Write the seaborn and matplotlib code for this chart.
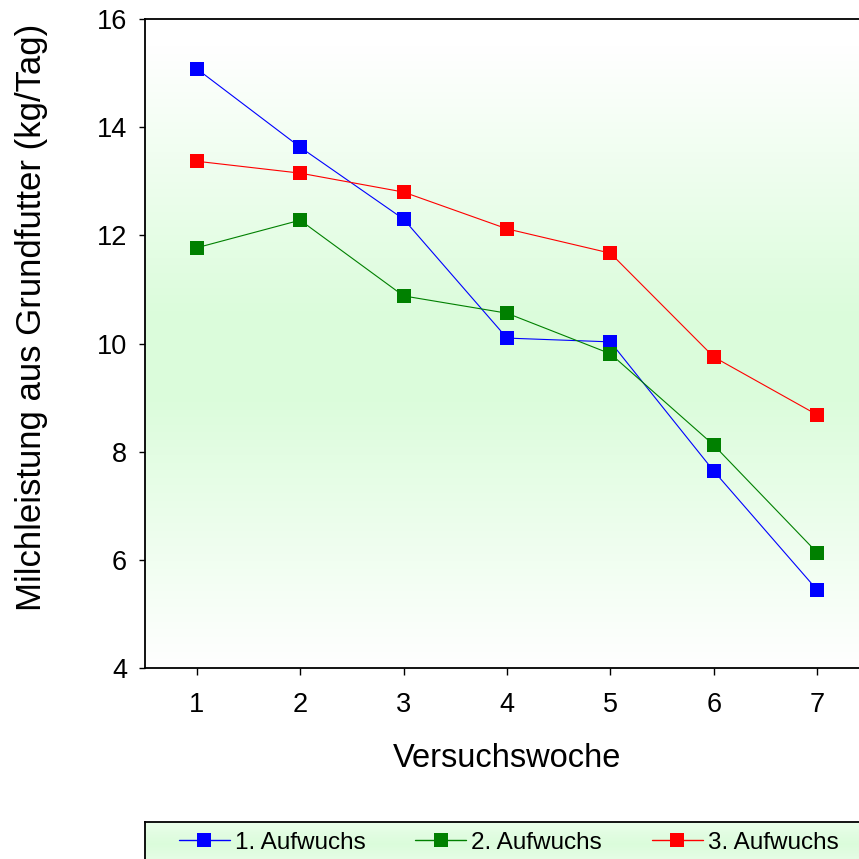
import numpy as np
import pandas as pd
import matplotlib
matplotlib.use("Agg")
import matplotlib.pyplot as plt
import seaborn as sns
from matplotlib.lines import Line2D

weeks = [1, 2, 3, 4, 5, 6, 7]
aufwuchs1 = [15.08, 13.63, 12.30, 10.10, 10.03, 7.64, 5.44]
aufwuchs2 = [11.77, 12.28, 10.88, 10.56, 9.81, 8.12, 6.13]
aufwuchs3 = [13.37, 13.15, 12.80, 12.12, 11.67, 9.75, 8.68]
series_names = ["1. Aufwuchs", "2. Aufwuchs", "3. Aufwuchs"]
colors = ["#0000ff", "#008000", "#ff0000"]

df = pd.DataFrame({
    "Versuchswoche": weeks * 3,
    "value": aufwuchs1 + aufwuchs2 + aufwuchs3,
    "series": [series_names[0]] * 7 + [series_names[1]] * 7 + [series_names[2]] * 7,
})

sns.set_theme(style="white")
plt.rcParams["font.family"] = ["Liberation Sans", "DejaVu Sans"]

W = H = 859
fig = plt.figure(figsize=(W / 100, H / 100), dpi=100)
ax_left, ax_right, ax_top, ax_bottom = 145, 869, 19, 668
ax = fig.add_axes([ax_left / W, 1 - ax_bottom / H, (ax_right - ax_left) / W, (ax_bottom - ax_top) / H])

green = np.array([0.86, 0.99, 0.86])
white = np.array([1.0, 1.0, 1.0])
t = np.linspace(0, 1, 256)
prof = 1 - np.abs(t - 0.52) / 0.48
prof = np.clip(prof * 1.15, 0, 1)
grad = white[None, :] * (1 - prof[:, None]) + green[None, :] * prof[:, None]
ax.imshow(grad[:, None, :], extent=[0.5, 7.5, 4, 16], aspect="auto", zorder=0, origin="upper")

sns.lineplot(data=df, x="Versuchswoche", y="value", hue="series", palette=colors,
             marker="s", markersize=9.5, markeredgewidth=0, linewidth=0.8,
             ax=ax, legend=False, zorder=3)

ax.set_xlim(0.5, 7.5)
ax.set_ylim(4, 16)
ax.set_xticks(weeks)
ax.set_yticks([4, 6, 8, 10, 12, 14, 16])
ax.tick_params(axis="both", which="major", labelsize=19.5, length=5, width=1, direction="out",
               color="black", labelcolor="black", left=True, bottom=True)
ax.tick_params(axis="x", pad=12)
ax.tick_params(axis="y", pad=9, length=4)
for s in ["left", "bottom", "top", "right"]:
    ax.spines[s].set_color("black")
    ax.spines[s].set_linewidth(1.3)
ax.set_xlabel("Versuchswoche", fontsize=23.5, color="black", labelpad=18)
ax.set_ylabel("Milchleistung aus Grundfutter (kg/Tag)", fontsize=25, color="black")
ax.yaxis.set_label_coords((48 - ax_left) / (ax_right - ax_left), (ax_bottom - 317) / (ax_bottom - ax_top))
ax.grid(False)

# legend box
lg_top, lg_bottom = 822, 866
lax = fig.add_axes([ax_left / W, 1 - lg_bottom / H, (ax_right - ax_left) / W, (lg_bottom - lg_top) / H])
t2 = np.linspace(0, 1, 64)
prof2 = 1 - np.abs(t2 - 0.5) / 0.5
prof2 = 0.6 + 0.4 * prof2
grad2 = white[None, :] * (1 - prof2[:, None]) + green[None, :] * prof2[:, None]
lax.imshow(grad2[:, None, :], extent=[0, 1, 0, 1], aspect="auto", zorder=0)
lax.set_xlim(0, 1)
lax.set_ylim(0, 1)
lax.set_xticks([])
lax.set_yticks([])
for s in lax.spines.values():
    s.set_color("black")
    s.set_linewidth(1.3)
handles = [Line2D([0], [0], color=c, marker="s", markersize=9.5, markeredgewidth=0, linewidth=1.0)
           for c in colors]
leg = lax.legend(handles, series_names, ncol=3, loc="center left",
                 bbox_to_anchor=(24 / (ax_right - ax_left), 0.53),
                 frameon=False, prop={"family": ["Liberation Sans"], "size": 17.5},
                 handlelength=2.1, handletextpad=0.2,
                 columnspacing=2.05, borderaxespad=0.0, borderpad=0.4)
for txt in leg.get_texts():
    txt.set_color("black")

fig.savefig("out.png", dpi=100)
